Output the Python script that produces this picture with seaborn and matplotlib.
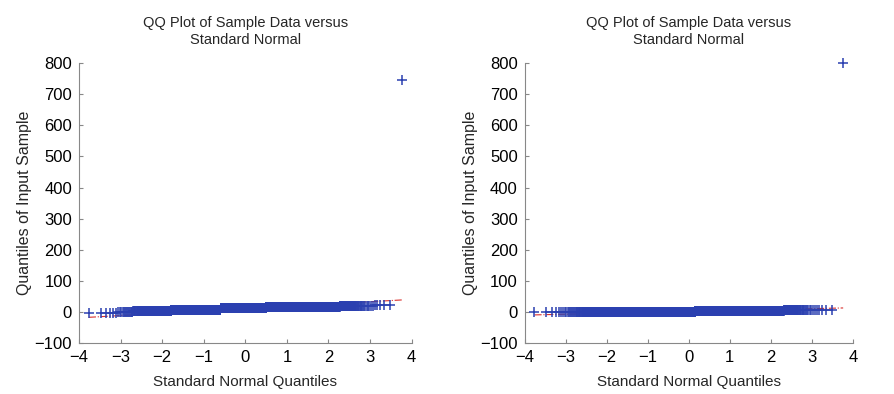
import numpy as np
import pandas as pd
import matplotlib
matplotlib.use("Agg")
import matplotlib.pyplot as plt
import seaborn as sns
from statistics import NormalDist

# ---- data (sorted sample values as level/count runs) ----
left_levels = [-2, 0, 2, 6, 13, 16, 18, 20, 22, 745]
left_counts = [6, 14, 200, 1420, 2480, 1770, 45, 18, 5, 1]

right_levels = [-1, 0, 4, 5, 800]
right_counts = [8, 3320, 2570, 60, 1]

x_ticks = [-4, -3, -2, -1, 0, 1, 2, 3, 4]
y_ticks = [-100, 0, 100, 200, 300, 400, 500, 600, 700, 800]

title_text = "QQ Plot of Sample Data versus\nStandard Normal"
x_label = "Standard Normal Quantiles"
y_label = "Quantiles of Input Sample"


def qq_frame(levels, counts):
    sample = np.repeat(levels, counts).astype(float)
    n = len(sample)
    nd = NormalDist()
    theo = np.array([nd.inv_cdf((i + 0.5) / n) for i in range(n)])
    return pd.DataFrame({"theo": theo, "sample": sample})


def ref_line(df):
    q1x, q3x = NormalDist().inv_cdf(0.25), NormalDist().inv_cdf(0.75)
    q1y, q3y = np.quantile(df["sample"], [0.25, 0.75])
    slope = (q3y - q1y) / (q3x - q1x)
    xs = np.array([df["theo"].min(), df["theo"].max()])
    return q1x, q3x, q1y, q3y, slope, xs


sns.set_theme(style="white")
plt.rcParams["font.family"] = ["Liberation Sans", "DejaVu Sans"]

fig = plt.figure(figsize=(8.94, 3.94), dpi=100)
ax1 = fig.add_axes([0.0884, 0.129, 0.372, 0.711])
ax2 = fig.add_axes([0.587, 0.129, 0.367, 0.711])

blue = "#2b40b0"
red = "#d9302c"

for ax, lv, ct in [(ax1, left_levels, left_counts), (ax2, right_levels, right_counts)]:
    df = qq_frame(lv, ct)
    q1x, q3x, q1y, q3y, slope, xs = ref_line(df)
    ext = pd.DataFrame({"x": xs, "y": q1y + slope * (xs - q1x)})
    mid = pd.DataFrame({"x": [q1x, q3x], "y": [q1y, q3y]})
    sns.lineplot(data=ext, x="x", y="y", ax=ax, color=red, lw=0.8,
                 linestyle="-.", zorder=1)
    sns.lineplot(data=mid, x="x", y="y", ax=ax, color=red, lw=0.8, zorder=1)
    sns.scatterplot(data=df, x="theo", y="sample", ax=ax, marker="+",
                    color=blue, s=55, linewidth=1.1, zorder=2, clip_on=False)

    ax.set_xlim(-4, 4)
    ax.set_ylim(-100, 800)
    ax.set_xticks(x_ticks)
    ax.set_yticks(y_ticks)
    ax.set_xticklabels([str(t).replace("-", "\u2212") for t in x_ticks])
    ax.set_yticklabels([str(t).replace("-", "\u2212") for t in y_ticks])
    ax.set_title(title_text, fontsize=10.5, pad=14, linespacing=1.25)
    ax.set_xlabel(x_label, fontsize=11, labelpad=7)
    ax.set_ylabel(y_label, fontsize=11.5, labelpad=2)
    for s in ["top", "right"]:
        ax.spines[s].set_visible(False)
    for s in ["left", "bottom"]:
        ax.spines[s].set_color("#888888")
        ax.spines[s].set_linewidth(0.8)
    ax.tick_params(direction="in", length=3, width=0.8, colors="#888888",
                   labelcolor="black", labelsize=12, pad=5,
                   left=True, bottom=True)

fig.savefig("out.png", dpi=100, facecolor="white")
